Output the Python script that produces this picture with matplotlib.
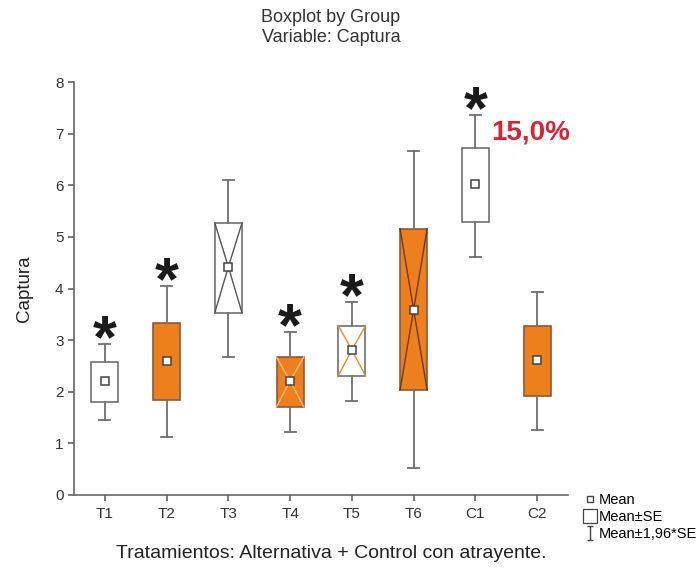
import matplotlib
matplotlib.use("Agg")
import matplotlib.pyplot as plt
import numpy as np
from matplotlib.lines import Line2D
from matplotlib.path import Path

plt.rcParams['font.family'] = ['Liberation Sans', 'DejaVu Sans']

groups = ['T1', 'T2', 'T3', 'T4', 'T5', 'T6', 'C1', 'C2']
means = [2.21, 2.60, 4.42, 2.21, 2.81, 3.59, 6.03, 2.62]
se_lo = [1.80, 1.84, 3.53, 1.71, 2.31, 2.03, 5.29, 1.92]
se_hi = [2.58, 3.33, 5.27, 2.67, 3.28, 5.16, 6.72, 3.28]
ci_lo = [1.45, 1.12, 2.67, 1.22, 1.82, 0.52, 4.61, 1.26]
ci_hi = [2.93, 4.05, 6.10, 3.16, 3.74, 6.67, 7.36, 3.93]
# significance marks and box styling
signif = [True, True, False, True, True, False, True, False]
fill = ['white', '#ee7f1d', 'white', '#ee7f1d', 'white', '#ee7f1d', 'white', '#ee7f1d']
cross = [None, None, '#555555', '#f8b878', '#ee8a30', '#6b3a14', None, None]

ORANGE_EDGE = '#8a5a3a'
GRAY = '#707070'

fig = plt.figure(figsize=(7, 5.76), dpi=100)
ax = fig.add_axes([74 / 700, 1 - 495 / 576, 494 / 700, 413 / 576])

pos = np.arange(1, len(groups) + 1)
stats = []
for i in range(len(groups)):
    stats.append(dict(med=means[i], q1=se_lo[i], q3=se_hi[i],
                      whislo=ci_lo[i], whishi=ci_hi[i],
                      mean=means[i], fliers=[]))

bp = ax.bxp(stats, positions=pos, widths=0.44, patch_artist=True,
            showmeans=True, showfliers=False,
            medianprops=dict(visible=False),
            whiskerprops=dict(color=GRAY, lw=1.3),
            capprops=dict(color=GRAY, lw=1.3),
            capwidths=0.18,
            boxprops=dict(lw=1.2),
            meanprops=dict(marker='s', markersize=5.5, markerfacecolor='white',
                           markeredgecolor='#444444', markeredgewidth=1.1))

w = 0.44
for i, box in enumerate(bp['boxes']):
    box.set_facecolor(fill[i])
    box.set_edgecolor(ORANGE_EDGE if fill[i] != 'white' else GRAY)
    if cross[i]:
        x0, x1 = pos[i] - w / 2, pos[i] + w / 2
        ax.plot([x0, pos[i], x1], [se_hi[i], means[i], se_hi[i]],
                color=cross[i], lw=1.0, zorder=2.5)
        ax.plot([x0, pos[i], x1], [se_lo[i], means[i], se_lo[i]],
                color=cross[i], lw=1.0, zorder=2.5)
for m in bp['means']:
    m.set_zorder(4)

for i in range(len(groups)):
    if signif[i]:
        ax.text(pos[i], ci_hi[i] + 0.04, '*', ha='center', va='center',
                fontsize=44, fontweight='bold', color='#1a1a1a')

ax.text(7.9, 7.03, '15,0%', ha='center', va='center', fontsize=20,
        fontweight='bold', color='#d62433')

ax.set_xlim(0.5, 8.5)
ax.set_ylim(0, 8)
ax.set_xticks(pos)
ax.set_xticklabels(groups)
ax.set_yticks(range(0, 9))
for s in ['top', 'right']:
    ax.spines[s].set_visible(False)
for s in ['left', 'bottom']:
    ax.spines[s].set_color('#666666')
    ax.spines[s].set_linewidth(1.2)
ax.tick_params(axis='both', colors='#555555', labelcolor='#333333',
               labelsize=11, length=4, width=1.1)
ax.tick_params(axis='x', pad=5)
ax.set_ylabel('Captura', fontsize=13.5, color='#222222', labelpad=16)

fig.text(331 / 700, 1 - 18 / 576, 'Boxplot by Group', ha='center',
         va='center', fontsize=13, color='#333333')
fig.text(331 / 700, 1 - 38 / 576, 'Variable: Captura', ha='center',
         va='center', fontsize=13, color='#333333')
fig.text(331 / 700, 1 - 553 / 576,
         'Tratamientos: Alternativa + Control con atrayente.',
         ha='center', va='center', fontsize=14, color='#222222')

ibeam = Path([(-0.5, 1), (0.5, 1), (0, 1), (0, -1), (-0.5, -1), (0.5, -1)],
             [Path.MOVETO, Path.LINETO, Path.MOVETO, Path.LINETO,
              Path.MOVETO, Path.LINETO])
handles = [
    Line2D([], [], ls='none', marker='s', markersize=4.5, markerfacecolor='white',
           markeredgecolor='#444444'),
    Line2D([], [], ls='none', marker='s', markersize=10, markerfacecolor='white',
           markeredgecolor='#444444', markeredgewidth=0.9),
    Line2D([], [], ls='none', marker=ibeam, markersize=10, markerfacecolor='none',
           markeredgecolor='#444444', markeredgewidth=1.0),
]
fig.legend(handles, ['Mean', 'Mean±SE', 'Mean±1,96*SE'],
           loc='upper left', bbox_to_anchor=(578 / 700, 1 - 487 / 576),
           frameon=False, handlelength=0.8, handletextpad=0.2,
           labelspacing=0.2, fontsize=10.5, borderaxespad=0)

fig.savefig('out.png', dpi=100, facecolor='white')
